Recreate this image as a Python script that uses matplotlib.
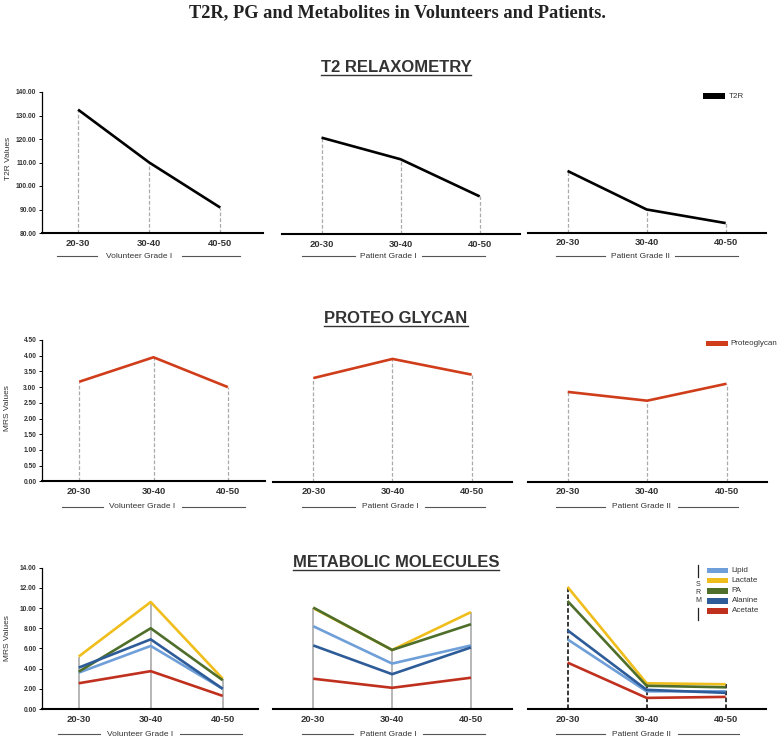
import matplotlib
matplotlib.use('Agg')
import matplotlib.pyplot as plt
from matplotlib.lines import Line2D
from matplotlib.patches import Rectangle

plt.rcParams['font.family'] = ['Liberation Sans', 'DejaVu Sans']

# ---------------- data ----------------
age_groups = ['20-30', '30-40', '40-50']
group_labels = ['Volunteer Grade I', 'Patient Grade I', 'Patient Grade II']

t2r_volunteer = [132.5, 110.0, 90.8]
t2r_patient1 = [121.0, 111.8, 96.0]
t2r_patient2 = [106.2, 89.8, 84.0]

pg_volunteer = [3.17, 3.95, 3.00]
pg_patient1 = [3.30, 3.91, 3.41]
pg_patient2 = [2.86, 2.58, 3.12]

metabolite_names = ['Lipid', 'Lactate', 'PA', 'Alanine', 'Acetate']
lipid = [[3.6, 6.25, 2.0], [8.2, 4.5, 6.3], [6.9, 1.75, 1.75]]
lactate = [[5.2, 10.6, 3.0], [10.0, 5.85, 9.6], [12.1, 2.55, 2.45]]
pa = [[3.7, 8.0, 2.85], [10.05, 5.85, 8.4], [10.7, 2.3, 2.15]]
alanine = [[4.1, 6.9, 2.0], [6.3, 3.45, 6.1], [7.8, 1.9, 1.6]]
acetate = [[2.55, 3.75, 1.3], [3.0, 2.1, 3.1], [4.6, 1.1, 1.2]]

metab_colors = ['#6f9fd8', '#f0be1c', '#4e6e2a', '#2e5c99', '#c0301e']
pg_color = '#d03d1a'

# ---------------- figure ----------------
W, H = 782, 740
fig = plt.figure(figsize=(W / 100, H / 100), dpi=100)


def fx(x):
    return x / W


def fy(y):
    return 1 - y / H


def make_ax(x0, x1, ybot, span, xl, xr, ylim, left_axis):
    ax = fig.add_axes([fx(x0), fy(ybot), (x1 - x0) / W, span / H])
    ax.set_xlim(xl, xr)
    ax.set_ylim(*ylim)
    ax.patch.set_alpha(0)
    for s in ['top', 'right']:
        ax.spines[s].set_visible(False)
    ax.spines['bottom'].set_linewidth(1.5)
    ax.spines['bottom'].set_color('black')
    ax.set_xticks(range(len(age_groups)))
    ax.set_xticklabels(age_groups, fontsize=6.8, fontweight='bold', color='#333333')
    ax.tick_params(axis='x', length=0, pad=4)
    if left_axis:
        ax.spines['left'].set_linewidth(0.9)
        ax.tick_params(axis='y', length=2, width=0.7, pad=2, labelsize=4.8,
                       labelcolor='#333333')
        for t in ax.get_yticklabels():
            t.set_fontweight('bold')
    else:
        ax.spines['left'].set_visible(False)
        ax.set_yticks([])
    return ax


rows = [
    dict(ylim=(80, 140), span=141, ticks=[80 + 10 * i for i in range(7)],
         panels=[(42, 263, 233, -0.507, 2.6), (282, 520, 234, -0.5, 2.51),
                 (528, 766, 232.5, -0.5, 2.51)]),
    dict(ylim=(0, 4.5), span=141.3, ticks=[0.5 * i for i in range(10)],
         panels=[(42, 265, 481.3, -0.5, 2.5), (273, 512, 481.7, -0.51, 2.51),
                 (528, 767, 481.7, -0.5, 2.51)]),
    dict(ylim=(0, 14), span=141.3, ticks=[2 * i for i in range(8)],
         panels=[(42, 258, 709, -0.51, 2.49), (273, 512, 709, -0.51, 2.52),
                 (528, 766, 709, -0.5, 2.51)]),
]

axes = []
for r, row in enumerate(rows):
    row_axes = []
    for p, (x0, x1, yb, xl, xr) in enumerate(row['panels']):
        ax = make_ax(x0, x1, yb, row['span'], xl, xr, row['ylim'], p == 0)
        if p == 0:
            ax.set_yticks(row['ticks'])
            ax.set_yticklabels(['%.2f' % t for t in row['ticks']], fontsize=4.8,
                               fontweight='bold', color='#333333')
        row_axes.append(ax)
    axes.append(row_axes)

xs = list(range(len(age_groups)))
dash = (0, (3, 1.6))

# row 1 - T2R
for ax, vals in zip(axes[0], [t2r_volunteer, t2r_patient1, t2r_patient2]):
    ax.vlines(xs, 80, vals, colors='#aaaaaa', linestyles=dash, lw=0.9)
    ax.plot(xs, vals, color='black', lw=1.9, solid_capstyle='butt')

# row 2 - PG
for ax, vals in zip(axes[1], [pg_volunteer, pg_patient1, pg_patient2]):
    ax.vlines(xs, 0, vals, colors='#aaaaaa', linestyles=dash, lw=0.9)
    ax.plot(xs, vals, color=pg_color, lw=1.9, solid_capstyle='butt')

# row 3 - metabolites
series = [lipid, lactate, pa, alanine, acetate]
for p, ax in enumerate(axes[2]):
    tops = [max(s[p][i] for s in series) for i in xs]
    if p < 2:
        ax.vlines(xs, 0, tops, colors='#aaaaaa', lw=1.2)
    else:
        ax.vlines(xs, 0, tops, colors='black', linestyles=(0, (3, 1.5)), lw=1.1)
    for s, c in zip(series, metab_colors):
        ax.plot(xs, s[p], color=c, lw=1.9, solid_capstyle='butt')

# y axis labels
fig.text(fx(9), fy(158), 'T2R Values', rotation=90, ha='center', va='center',
         fontsize=6, color='#333333')
fig.text(fx(8), fy(408), 'MRS Values', rotation=90, ha='center', va='center',
         fontsize=6, color='#333333')
fig.text(fx(8), fy(638), 'MRS Values', rotation=90, ha='center', va='center',
         fontsize=6, color='#333333')

# group labels with flanking lines
group_lines = [
    (256, [((57, 97), (182, 240)), ((302, 355), (422, 485)), ((556, 605), (675, 738))]),
    (506.7, [((62, 103), (182, 245)), ((302, 355), (425, 485)), ((556, 605), (678, 738))]),
    (734, [((58, 100), (180, 242)), ((302, 353), (423, 485)), ((556, 605), (678, 739))]),
]
for y, segs in group_lines:
    for (l, rr), lab in zip(segs, group_labels):
        for a, b in (l, rr):
            fig.add_artist(Line2D([fx(a), fx(b)], [fy(y), fy(y)], color='#555555', lw=0.8))
        fig.text(fx((l[1] + rr[0]) / 2), fy(y), lab, ha='center', va='center',
                 fontsize=6, color='#333333')

# titles
fig.text(fx(397), fy(17), 'T2R, PG and Metabolites in Volunteers and Patients.',
         ha='center', va='baseline', fontsize=13.2, fontweight='bold',
         family=['Liberation Serif', 'DejaVu Serif'], color='#222222')

section_titles = [('T2 RELAXOMETRY', 72), ('PROTEO GLYCAN', 323), ('METABOLIC MOLECULES', 567)]
sec_texts = []
for txt, yb in section_titles:
    t = fig.text(fx(396), fy(yb), txt, ha='center', va='baseline', fontsize=12,
                 fontweight='bold', color='#333333')
    sec_texts.append((t, yb))

fig.canvas.draw()
renderer = fig.canvas.get_renderer()
for t, yb in sec_texts:
    bb = t.get_window_extent(renderer)
    fig.add_artist(Line2D([bb.x0 / W, bb.x1 / W], [fy(yb + 2.5), fy(yb + 2.5)],
                          color='#333333', lw=1.0))

# legends


def legend_item(x0, x1, yc, h, color, label, tx):
    fig.add_artist(Rectangle((fx(x0), fy(yc + h / 2)), (x1 - x0) / W, h / H,
                             facecolor=color, edgecolor='none', transform=fig.transFigure))
    fig.text(fx(tx), fy(yc), label, ha='left', va='center', fontsize=5.8, color='#333333')


legend_item(703, 725, 96, 5.5, 'black', 'T2R', 728.5)
legend_item(705.7, 727.7, 343.5, 5.5, pg_color, 'Proteoglycan', 730)
for name, c, yc in zip(metabolite_names, metab_colors, [570.7, 580.7, 591, 601, 611]):
    legend_item(706.7, 728.3, yc, 5.2, c, name, 731.5)

fig.add_artist(Line2D([fx(698), fx(698)], [fy(565), fy(577)], color='#222222', lw=0.9))
fig.add_artist(Line2D([fx(698), fx(698)], [fy(608), fy(620)], color='#222222', lw=0.9))
for ch, yc in zip('SRM', [585, 592.5, 600]):
    fig.text(fx(698), fy(yc), ch, ha='center', va='center', fontsize=5, color='#333333')

fig.savefig('out.png', dpi=100)
